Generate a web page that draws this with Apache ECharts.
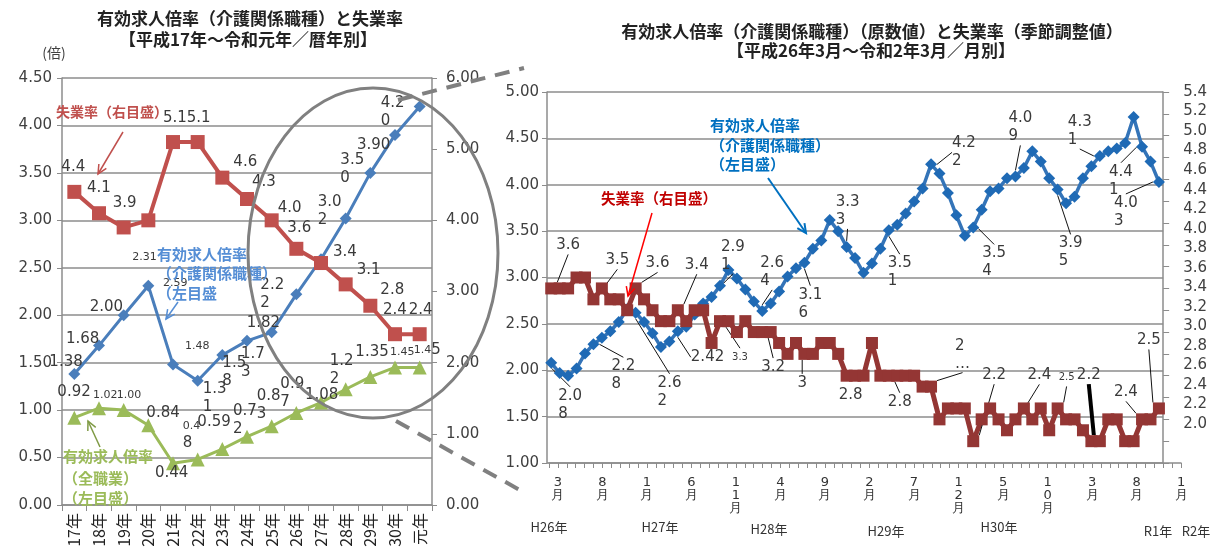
<!DOCTYPE html>
<html>
<head>
<meta charset="utf-8">
<script src="https://cdn.jsdelivr.net/npm/echarts@6/dist/echarts.min.js"></script>
<style>
html,body{margin:0;padding:0;background:#fff;}
#chart{width:1210px;height:556px;}
</style>
</head>
<body>
<div id="chart"></div>
<script>
// ---------- 暦年別（平成17年～令和元年） ----------
const yearCats = ['17年','18年','19年','20年','21年','22年','23年','24年','25年','26年','27年','28年','29年','30年','元年'];
const careRatioByYear = [1.38,1.68,2.00,2.31,1.48,1.31,1.58,1.73,1.82,2.22,2.59,3.02,3.50,3.90,4.20];
const unemploymentByYear = [4.4,4.1,3.9,4.0,5.1,5.1,4.6,4.3,4.0,3.6,3.4,3.1,2.8,2.4,2.4];
const allJobsRatioByYear = [0.92,1.02,1.00,0.84,0.44,0.48,0.59,0.72,0.83,0.97,1.08,1.22,1.35,1.45,1.45];

// ---------- 月別（平成26年3月～令和2年3月） ----------
const monthCats = [
  'H26.3','H26.4','H26.5','H26.6','H26.7','H26.8','H26.9','H26.10','H26.11','H26.12',
  'H27.1','H27.2','H27.3','H27.4','H27.5','H27.6','H27.7','H27.8','H27.9','H27.10','H27.11','H27.12',
  'H28.1','H28.2','H28.3','H28.4','H28.5','H28.6','H28.7','H28.8','H28.9','H28.10','H28.11','H28.12',
  'H29.1','H29.2','H29.3','H29.4','H29.5','H29.6','H29.7','H29.8','H29.9','H29.10','H29.11','H29.12',
  'H30.1','H30.2','H30.3','H30.4','H30.5','H30.6','H30.7','H30.8','H30.9','H30.10','H30.11','H30.12',
  'H31.1','H31.2','H31.3','H31.4','R1.5','R1.6','R1.7','R1.8','R1.9','R1.10','R1.11','R1.12',
  'R2.1','R2.2','R2.3'
];
const careRatioByMonth = [
  2.08,1.97,1.94,2.02,2.18,2.28,2.35,2.42,2.52,2.66,
  2.62,2.52,2.40,2.25,2.31,2.42,2.47,2.60,2.72,2.79,2.91,3.08,
  2.99,2.87,2.74,2.64,2.72,2.85,3.01,3.10,3.16,3.31,3.40,3.62,
  3.50,3.33,3.21,3.05,3.15,3.31,3.51,3.57,3.69,3.82,3.96,4.22,
  4.12,3.91,3.67,3.45,3.54,3.73,3.93,3.96,4.07,4.09,4.18,4.36,
  4.25,4.07,3.95,3.80,3.87,4.07,4.20,4.31,4.36,4.39,4.45,4.73,
  4.41,4.25,4.03
];
const unemploymentByMonth = [
  3.6,3.6,3.6,3.7,3.7,3.5,3.6,3.5,3.5,3.4,
  3.6,3.5,3.4,3.3,3.3,3.4,3.3,3.4,3.4,3.1,3.3,3.3,
  3.2,3.3,3.2,3.2,3.2,3.1,3.0,3.1,3.0,3.0,3.1,3.1,
  3.0,2.8,2.8,2.8,3.1,2.8,2.8,2.8,2.8,2.8,2.7,2.7,
  2.4,2.5,2.5,2.5,2.2,2.4,2.5,2.4,2.3,2.4,2.5,2.4,
  2.5,2.3,2.5,2.4,2.4,2.3,2.2,2.2,2.4,2.4,2.2,2.2,
  2.4,2.4,2.5
];
// month tick labels on the lower axis run from H26.3 to R2.1
const monthTickLabels = monthCats.slice(0, 71).map(m => m.split('.')[1] + '月');
const eraLabels = ['H26年','H27年','H28年','H29年','H30年','R1年','R2年'];

// ---------- data-label placement (offsets from each point) ----------
const leftCareLabels = {
  0:{dx:-25,dy:-12}, 1:{dx:-33,dy:-6}, 2:{dx:-34,dy:-8}, 3:{dx:-16,dy:-29,s:11},
  4:{dx:12,dy:-18,s:11}, 5:{m:'w',dx:5,dy:17}, 6:{m:'w',dx:0,dy:17}, 7:{m:'w',dx:-6,dy:22},
  8:{dx:-25,dy:-9}, 9:{m:'w',dx:-36,dy:0}, 10:{dx:-158,dy:24,s:11}, 11:{m:'w',dx:-28,dy:-7},
  12:{m:'w',dx:-30,dy:-4}, 13:{dx:-38,dy:10}, 14:{m:'w',dx:-39,dy:6}
};
const leftUnempLabels = {
  0:{dx:-13,dy:-25}, 1:{dx:-12,dy:-25}, 2:{dx:-11,dy:-24}, 4:{dx:-10,dy:-24}, 5:{dx:-11,dy:-24},
  6:{dx:11,dy:-16}, 7:{dx:5,dy:-17}, 8:{dx:6,dy:-12}, 9:{dx:-9,dy:-21}, 10:{dx:12,dy:-11},
  11:{dx:11,dy:-14}, 12:{dx:10,dy:-16}, 13:{dx:-12,dy:-24}, 14:{dx:-11,dy:-24}
};
const leftAllLabels = {
  0:{dx:-17,dy:-26}, 1:{dx:-6,dy:-13,s:11}, 2:{dx:-7,dy:-15,s:11}, 3:{dx:-2,dy:-12},
  4:{dx:-18,dy:10}, 5:{m:'ws',dx:-15,dy:-24}, 6:{dx:-25,dy:-27}, 7:{m:'w',dx:-14,dy:-17},
  8:{m:'w',dx:-15,dy:-21}, 9:{m:'w',dx:-16,dy:-20}, 10:{dx:-16,dy:-7}, 11:{m:'w',dx:-16,dy:-19},
  12:{dx:-15,dy:-25}, 13:{dx:-5,dy:-15,s:11}, 14:{m:'ss',dx:-6,dy:-17}
};
const rightCareLabels = {
  0:{m:'w',dx:7,dy:42}, 5:{m:'w',dx:18,dy:31}, 10:{m:'w',dx:22,dy:79}, 15:{dx:13,dy:26},
  20:{m:'w',dx:1,dy:-30}, 25:{m:'w',dx:-2,dy:-39}, 30:{m:'w',dx:-6,dy:41}, 35:{m:'w',dx:-11,dy:-36},
  40:{m:'w',dx:-1,dy:42}, 45:{m:'w',dx:21,dy:-12}, 50:{m:'w',dx:9,dy:35}, 55:{m:'w',dx:-7,dy:-49},
  60:{m:'w',dx:1,dy:63}, 65:{m:'w',dx:-32,dy:-25}, 70:{m:'w',dx:-33,dy:34}, 72:{m:'w',dx:-45,dy:30}
};
const rightUnempLabels = {
  0:{dx:5,dy:-43}, 5:{dx:12,dy:-39}, 10:{dx:10,dy:-25}, 15:{dx:7,dy:-45},
  20:{dx:12,dy:36,s:10}, 25:{dx:-1,dy:35}, 30:{m:'g',dx:-7,dy:29}, 35:{dx:-8,dy:19,noLine:true},
  40:{dx:-1,dy:26}, 45:{m:'e',dx:24,dy:-32}, 50:{dx:9,dy:-66}, 55:{dx:12,dy:-44},
  60:{dx:1,dy:-31,s:10}, 65:{dx:-23,dy:-66,thick:true}, 70:{dx:-28,dy:-27}, 72:{dx:-22,dy:-68}
};

const NUM_FONT = '"DejaVu Sans", Verdana, sans-serif';
const JP_FONT = '"Noto Sans CJK JP", "Noto Sans", sans-serif';
const TEXT_COL = '#3a3a3a';
const GRID_COL = '#8c8c8c';

function labelText(v, mode, dec) {
  const s = v.toFixed(dec);
  switch (mode) {
    case 'w':  return s.slice(0, 3) + '\n' + s.slice(3);
    case 'g':  return String(+s);
    case 'e':  return s.slice(0, 1) + '\n…';
    case 'ws': return '{s|' + s.slice(0, 3) + '}\n{n|' + s.slice(3) + '}';
    case 'ss': return '{s|' + s.slice(0, 3) + '}{n|' + s.slice(3) + '}';
    default:   return s;
  }
}

function withLabels(values, spec, dec) {
  return values.map((v, i) => {
    const sp = spec[i];
    if (!sp) return { value: v };
    const item = {
      value: v,
      label: { show: true, formatter: labelText(v, sp.m, dec), fontSize: sp.s || 15 }
    };
    if (sp.noLine) item.labelLine = { show: false };
    if (sp.thick) item.labelLine = { show: true, lineStyle: { color: '#000', width: 4 } };
    return item;
  });
}

function layoutFrom(spec) {
  return p => {
    const sp = spec[p.dataIndex];
    return sp ? { dx: sp.dx, dy: sp.dy } : {};
  };
}

const baseLabel = {
  show: false, position: 'inside', align: 'left', verticalAlign: 'middle',
  color: TEXT_COL, fontFamily: NUM_FONT, fontSize: 15, lineHeight: 18,
  rich: {
    s: { fontSize: 11, fontFamily: NUM_FONT, color: TEXT_COL, lineHeight: 16 },
    n: { fontSize: 15, fontFamily: NUM_FONT, color: TEXT_COL, lineHeight: 18 }
  }
};

// ---------- annotation helpers ----------
function arrow(x1, y1, x2, y2, color, w, head) {
  const a = Math.atan2(y2 - y1, x2 - x1), h = head || 10, s = 0.45;
  return [
    { type: 'line', z: 50, shape: { x1, y1, x2, y2 }, style: { stroke: color, lineWidth: w } },
    { type: 'polyline', z: 50, shape: { points: [
        [x2 - h * Math.cos(a - s), y2 - h * Math.sin(a - s)], [x2, y2],
        [x2 - h * Math.cos(a + s), y2 - h * Math.sin(a + s)] ] },
      style: { stroke: color, lineWidth: w, fill: null } }
  ];
}
function txt(x, y, text, color, font, align) {
  return { type: 'text', z: 50, x, y,
    style: { text, fill: color, font, textAlign: align || 'left', textVerticalAlign: 'middle' } };
}

const noteFont = 'bold 15px ' + JP_FONT;

const graphics = [
  // titles
  txt(250, 19, '有効求人倍率（介護関係職種）と失業率', '#222', 'bold 17px ' + JP_FONT, 'center'),
  txt(248, 40, '【平成17年～令和元年／暦年別】', '#222', 'bold 17px ' + JP_FONT, 'center'),
  txt(872, 32, '有効求人倍率（介護関係職種）（原数値）と失業率（季節調整値）', '#222', 'bold 17px ' + JP_FONT, 'center'),
  txt(871, 51, '【平成26年3月～令和2年3月／月別】', '#222', 'bold 17px ' + JP_FONT, 'center'),
  txt(54, 53, '(倍)', '#404040', '14px ' + JP_FONT, 'center'),

  // left panel notes
  txt(56, 112, '失業率（右目盛）', '#C0504D', 'bold 14px ' + JP_FONT),
  ...arrow(123, 132, 98, 174, '#C0504D', 1.5),
  txt(157, 254, '有効求人倍率', '#558ED5', noteFont),
  txt(157, 273, '（介護関係職種）', '#558ED5', noteFont),
  txt(157, 293, '（左目盛', '#558ED5', noteFont),
  ...arrow(178, 302, 166, 319, '#558ED5', 1.5),
  txt(63, 456, '有効求人倍率', '#9BBB59', noteFont),
  txt(63, 478, '（全職業）', '#9BBB59', noteFont),
  txt(63, 498, '（左目盛）', '#9BBB59', noteFont),
  ...arrow(100, 447, 88, 421, '#7f9a45', 1.5),

  // highlight ellipse and connector lines
  { type: 'ellipse', z: 60, shape: { cx: 373, cy: 253, rx: 125, ry: 165 },
    style: { fill: null, stroke: '#808080', lineWidth: 3 } },
  { type: 'line', z: 60, shape: { x1: 398, y1: 100, x2: 524, y2: 68 },
    style: { stroke: '#808080', lineWidth: 4, lineDash: [15, 10] } },
  { type: 'line', z: 60, shape: { x1: 396, y1: 421, x2: 527, y2: 494 },
    style: { stroke: '#808080', lineWidth: 4, lineDash: [15, 10] } },

  // right panel notes
  txt(710, 125, '有効求人倍率', '#0070C0', noteFont),
  txt(710, 145, '（介護関係職種）', '#0070C0', noteFont),
  txt(710, 164, '（左目盛）', '#0070C0', noteFont),
  ...arrow(768, 178, 806, 233, '#0070C0', 2),
  txt(601, 198, '失業率（右目盛）', '#C00000', 'bold 14.5px ' + JP_FONT),
  ...arrow(652, 213, 628, 296, '#FF0000', 1.5)
];
// era captions under the monthly axis
const eraX = [549, 660, 769, 886, 999, 1158, 1196];
const eraY = [527, 527, 529, 531, 527, 531, 531];
eraLabels.forEach((t, i) => graphics.push(txt(eraX[i], eraY[i], t, '#333', '13px ' + JP_FONT, 'center')));

const option = {
  animation: false,
  backgroundColor: '#fff',
  textStyle: { fontFamily: NUM_FONT },
  grid: [
    { left: 62, top: 78, width: 370, height: 427 },
    { left: 547, top: 92, width: 620.5, height: 371 },
    { left: 549, top: 92, width: 632, height: 371 }
  ],
  xAxis: [
    { type: 'category', gridIndex: 0, data: yearCats, boundaryGap: true,
      axisLine: { lineStyle: { color: GRID_COL, width: 1.5 } },
      axisTick: { show: true, length: 6, interval: 0, lineStyle: { color: GRID_COL } },
      axisLabel: { interval: 0, rotate: 90, margin: 8, color: '#222', fontSize: 16, fontFamily: JP_FONT } },
    { type: 'category', gridIndex: 1, data: monthCats, boundaryGap: true, show: false },
    { type: 'category', gridIndex: 2, data: monthTickLabels, boundaryGap: true,
      axisLine: { lineStyle: { color: GRID_COL, width: 1.5 } },
      axisTick: { show: true, length: 5, interval: 0, lineStyle: { color: GRID_COL } },
      axisLabel: { interval: 4, margin: 13, color: '#333', fontSize: 13, lineHeight: 13,
        fontFamily: NUM_FONT, padding: [0, 0, 0, 9],
        formatter: s => s.split('').join('\n') } }
  ],
  yAxis: [
    { type: 'value', gridIndex: 0, position: 'left', min: 0, max: 4.5, interval: 0.5,
      axisLine: { show: true, lineStyle: { color: GRID_COL, width: 1.5 } },
      axisTick: { show: true, length: 5, lineStyle: { color: GRID_COL } },
      splitLine: { lineStyle: { color: GRID_COL, width: 1.5 } },
      axisLabel: { formatter: v => v.toFixed(2), color: '#404040', fontSize: 15, margin: 10 } },
    { type: 'value', gridIndex: 0, position: 'right', min: 0, max: 6, interval: 1,
      axisLine: { show: true, lineStyle: { color: GRID_COL, width: 1.5 } },
      axisTick: { show: true, length: 5, lineStyle: { color: GRID_COL } },
      splitLine: { show: false },
      axisLabel: { formatter: v => v.toFixed(2), color: '#404040', fontSize: 15, margin: 14 } },
    { type: 'value', gridIndex: 1, position: 'left', min: 1, max: 5, interval: 0.5,
      axisLine: { show: true, lineStyle: { color: GRID_COL, width: 1.5 } },
      axisTick: { show: true, length: 5, lineStyle: { color: GRID_COL } },
      splitLine: { lineStyle: { color: GRID_COL, width: 1.5 } },
      axisLabel: { formatter: v => v.toFixed(2), color: '#404040', fontSize: 15, margin: 8 } },
    { type: 'value', gridIndex: 1, position: 'right', min: 2, max: 5.4, interval: 0.2,
      axisLine: { show: true, lineStyle: { color: GRID_COL, width: 1.5 } },
      axisTick: { show: true, length: 6, lineStyle: { color: GRID_COL } },
      splitLine: { show: false }, axisLabel: { show: false } },
    { type: 'value', gridIndex: 1, position: 'right', min: 1.6, max: 5.4, interval: 0.2,
      axisLine: { show: false }, axisTick: { show: false }, splitLine: { show: false },
      axisLabel: { color: '#404040', fontSize: 15, margin: 20,
        formatter: v => (v < 1.95 ? '' : v.toFixed(1)) } },
    { type: 'value', gridIndex: 2, show: false, min: 0, max: 1 }
  ],
  series: [
    { name: '有効求人倍率（介護関係職種）', type: 'line', xAxisIndex: 0, yAxisIndex: 0,
      data: withLabels(careRatioByYear, leftCareLabels, 2),
      symbol: 'diamond', symbolSize: 12, showAllSymbol: true,
      lineStyle: { color: '#4A7EBB', width: 3 }, itemStyle: { color: '#4A7EBB' },
      label: baseLabel, labelLine: { show: false }, labelLayout: layoutFrom(leftCareLabels), z: 3 },
    { name: '有効求人倍率（全職業）', type: 'line', xAxisIndex: 0, yAxisIndex: 0,
      data: withLabels(allJobsRatioByYear, leftAllLabels, 2),
      symbol: 'triangle', symbolSize: 14, showAllSymbol: true,
      lineStyle: { color: '#9BBB59', width: 3 }, itemStyle: { color: '#9BBB59' },
      label: baseLabel, labelLine: { show: false }, labelLayout: layoutFrom(leftAllLabels), z: 3 },
    { name: '失業率', type: 'line', xAxisIndex: 0, yAxisIndex: 1,
      data: withLabels(unemploymentByYear, leftUnempLabels, 1),
      symbol: 'rect', symbolSize: 14, showAllSymbol: true,
      lineStyle: { color: '#C0504D', width: 4 }, itemStyle: { color: '#C0504D' },
      label: baseLabel, labelLine: { show: false }, labelLayout: layoutFrom(leftUnempLabels), z: 4 },
    { name: '有効求人倍率（介護関係職種・月別）', type: 'line', xAxisIndex: 1, yAxisIndex: 2,
      data: withLabels(careRatioByMonth, rightCareLabels, 2),
      symbol: 'diamond', symbolSize: 12, showAllSymbol: true,
      lineStyle: { color: '#3474B8', width: 3.5 }, itemStyle: { color: '#1F6AB5' },
      label: baseLabel, labelLine: { show: true, lineStyle: { color: '#111', width: 1 } },
      labelLayout: layoutFrom(rightCareLabels), z: 3 },
    { name: '失業率（月別）', type: 'line', xAxisIndex: 1, yAxisIndex: 3,
      data: withLabels(unemploymentByMonth, rightUnempLabels, 1),
      symbol: 'rect', symbolSize: 12, showAllSymbol: true,
      lineStyle: { color: '#943634', width: 5 }, itemStyle: { color: '#943634' },
      label: baseLabel, labelLine: { show: true, lineStyle: { color: '#111', width: 1 } },
      labelLayout: layoutFrom(rightUnempLabels), z: 4 }
  ],
  graphic: graphics
};

const chart = echarts.init(document.getElementById('chart'), null, { renderer: 'canvas' });
chart.setOption(option);
</script>
</body>
</html>
